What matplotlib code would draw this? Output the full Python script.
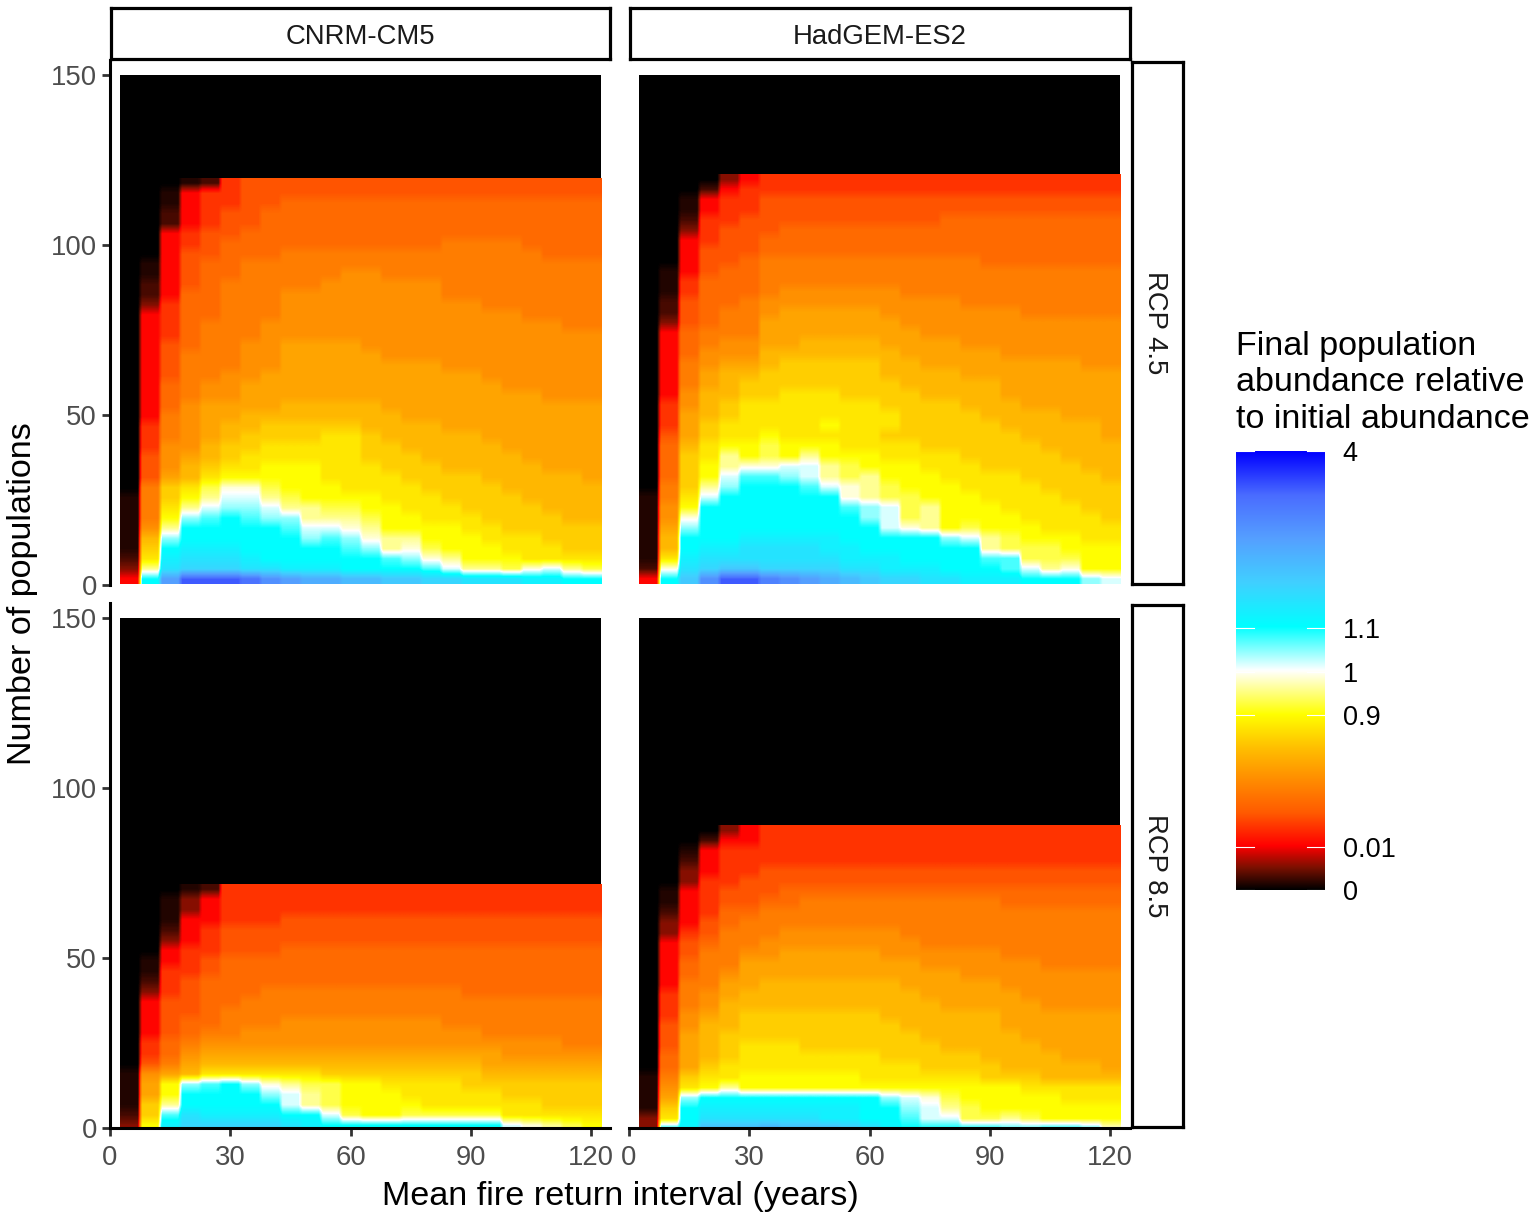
"""Final population abundance heatmaps: fire return interval vs number of populations."""
import numpy as np
import matplotlib
matplotlib.use("Agg")
import matplotlib.pyplot as plt
from matplotlib.colors import LinearSegmentedColormap

W, H = 1535, 1219
plt.rcParams["font.family"] = ["Liberation Sans", "DejaVu Sans"]

models = ["CNRM-CM5", "HadGEM-ES2"]
scenarios = ["RCP 4.5", "RCP 8.5"]
x_ticks = [0, 30, 60, 90, 120]
y_ticks = [0, 50, 100, 150]
fire_interval = [5, 10, 15, 20, 25, 30, 35, 40, 45, 50, 55, 60, 65, 70, 75, 80, 85, 90, 95, 100, 105, 110, 115, 120]
legend_labels = ["0", "0.01", "0.9", "1", "1.1", "4"]
legend_pos = [0.0, 0.098, 0.399, 0.497, 0.597, 1.0]

# Cells, top row first, one column per fire interval.
# Each character is a position on the colour legend: 0 = bottom, z = top.
top_of_cells = {"cnrm45": 119.5, "had45": 120.7, "cnrm85": 71.6, "had85": 88.8}
# нижний ряд обрезан осью, поэтому сетка клеток начинается ниже нуля
bottom_of_cells = {"cnrm45": 0.3, "had45": 0.3, "cnrm85": -0.7, "had85": -1.7}

cnrm45 = [
    "000125 666666 666666 666666",
    "001455 666666 666666 666666",
    "001455 667777 777777 777777",
    "002456 677777 777777 777777",
    "002456 677777 777777 777777",
    "004566 777777 777777 777777",
    "004567 777777 777788 887777",
    "004667 778888 888888 888777",
    "014677 888888 888888 888888",
    "014677 888889 988888 888888",
    "024678 888899 999988 888888",
    "024778 889999 999988 888888",
    "035778 889999 999999 888888",
    "045778 889999 999999 998888",
    "045788 899999 999999 999988",
    "045788 899999 999999 999999",
    "046788 99aaaa 999999 999999",
    "046888 99aaaa a99999 999999",
    "046888 99aaaa aaaa99 999999",
    "046889 9aaaaa aaaaaa 999999",
    "047899 aaaaaa aaaaaa a99999",
    "047899 aaaaaa aaaaaa aaa999",
    "0479aa aabbbb baaaaa aaaaaa",
    "0489aa bbbbbb bbaaaa aaaaaa",
    "0589ab bccccc bbbbaa aaaaaa",
    "0589ab ccccdd cbbbbb aaaaaa",
    "0599bc cddddd ccbbbb baaaaa",
    "069abc dddddd cccbbb bbaaaa",
    "069bcd deeedd dcccbb bbbaaa",
    "06abde eeeedd ddcccc bbbbba",
    "08cdfh hfeeed dddccc cbbbbb",
    "18cegi igfeee edddcc ccbbbb",
    "18dgij jiggff eedddc cccbbb",
    "18ejkl kjjggg feeddd ccccbb",
    "19glll llkiih geeeed dccccc",
    "1bjlll llljkj hggeee dddccc",
    "1clmmm lllllk jghfee edddcc",
    "2dmnnn mlllll lkjhge eedddd",
    "3gnooo nnmmml lllkig gfhigf",
    "4lswww vtsrrq qppoon nnmmll",
]

had45 = [
    "000034 555555 555555 555555",
    "000245 555555 555555 555555",
    "001455 666666 666666 666666",
    "001455 666666 666666 666666",
    "002556 666666 666777 777777",
    "003566 677777 777777 777777",
    "004566 777777 777777 777777",
    "004666 777777 777777 777777",
    "004667 888888 888887 777777",
    "014677 888888 888888 888888",
    "015777 888888 888888 888888",
    "015777 899999 988888 888888",
    "026778 999999 999988 888888",
    "026788 9aaaaa 999999 988888",
    "036788 aaaaaa a99999 999999",
    "047888 aaaaaa aa9999 999999",
    "047899 aabbbb aaaa99 999999",
    "047999 bbbbbb baaaaa 999999",
    "0489aa bccccc bbaaaa aaaa99",
    "048abb cccccc bbbbaa aaaaaa",
    "048abc cccccc cbbbbb aaaaaa",
    "049bbc cdddcc ccbbbb aaaaaa",
    "059bcd dddddd ccccbb baaaaa",
    "05abcd dddddd dccccb bbbaaa",
    "05acdd dddedd dccccc bbbbba",
    "06acdd eddddd cccccc cbbbba",
    "07bdee feeedd ddcccc ccbbbb",
    "07cdge fegeee ddddcc cccbbb",
    "07cegh hiigfe eedddc ccccbb",
    "07ceik kjigfg eeeddd dccccb",
    "08cgjl llkihg feeedd ddcccc",
    "18dill llllhg ffeeed dddccc",
    "19elll llllkj ifgeee ddddcc",
    "19hlll lllllj ifgeee eddddc",
    "1ajlll llllll ihgefe eedddd",
    "1blllm mmmmll llljig feeedd",
    "1blmmn nnnmml lllllg fffeee",
    "1dmnnn nnnnmm mllllk kfffee",
    "2hnopp oooonn mmmlll kighee",
    "4lptww utsrqp oonnmm mlllji",
]

cnrm85 = [
    "000125 555555 555555 555555",
    "001345 555555 555555 555555",
    "001345 555555 555555 555555",
    "001445 556666 666666 666666",
    "002456 666666 666666 666666",
    "003456 666666 666666 666666",
    "004556 667777 777777 777777",
    "014567 777777 777777 777777",
    "015567 777777 777777 777777",
    "025677 777777 777777 777777",
    "035677 788888 888887 777777",
    "046677 888888 888888 888888",
    "046678 888888 888888 888888",
    "046778 889999 999988 888888",
    "046788 999999 999999 888888",
    "057899 999999 999999 999988",
    "0579aa aaaaaa aaaaaa a99999",
    "068abb bbbbbb bbbbbb aaaaaa",
    "19abdd ddddcc cccccc bbbbbb",
    "1aejkl jhgffe eddddc cccccc",
    "1aelll ljigfe eedddd dccccc",
    "1cglll lligfe eeeddd dddccc",
    "2cknmm mmllif eeffff fddddd",
    "3emooo oonmll llllll lihgfe",
]

had85 = [
    "000034 555555 555555 555555",
    "000244 555555 555555 555555",
    "001455 555555 555555 555555",
    "002455 555555 555555 555555",
    "003455 666666 666666 666666",
    "003556 666666 666666 666666",
    "014566 677777 777777 777777",
    "014566 778888 888888 777777",
    "024577 888888 888888 888888",
    "034678 888888 888888 888888",
    "035688 899999 988888 888888",
    "046788 999999 998888 888888",
    "046889 9aaaaa 999999 888888",
    "04788a aaaaaa aa9999 998888",
    "04789a aaaaaa aaaa99 999999",
    "0488aa bbbbbb baaaaa 999999",
    "0589ab bbbbbb bbaaaa a99999",
    "0589bb bbbbbb bbbaaa aa9999",
    "059abc cccccc bbbbbb aaaaaa",
    "069bbc cccccc cbbbbb aaaaaa",
    "06abcc cccccc ccbbbb baaaaa",
    "06abcd ddcccc cccbbb bbaaaa",
    "07abcd dddddd cccccb bbbaaa",
    "07acdd dddddd ddcccc bbbbba",
    "18cdde eeeeed dddddc ccbbbb",
    "19dege eeeeee eeeeee eddddd",
    "1ajlll llllll jihfee eeeddd",
    "1clmmm mmmmml ljigfe eeeeee",
    "3dlnnn nnnmml lkiiff gfeeee",
    "3lmqqq rqqqpo mlllll kkllkh",
]

panels = {(0, 0): ("cnrm45", cnrm45), (0, 1): ("had45", had45),
          (1, 0): ("cnrm85", cnrm85), (1, 1): ("had85", had85)}

LEVELS = "0123456789abcdefghijklmnopqrstuvwxyz"
# тёмные уровни идут плотнее: коричневые клетки почти чёрные
DARK_LEVELS = {"1": 0.015, "2": 0.03, "3": 0.055, "4": 0.105}

# ggplot blends in Lab, hence the extra stops between the named colours
fire_cmap = LinearSegmentedColormap.from_list("fire", [
    (0.0, "#000000"), (0.05, "#7a1000"), (0.1, "#ff0000"), (0.175, "#ff5a00"),
    (0.25, "#ff8c00"), (0.325, "#ffc000"), (0.4, "#ffff00"), (0.5, "#ffffff"),
    (0.6, "#00ffff"), (0.7, "#40d0ff"), (0.8, "#55a0ff"), (0.9, "#4a6cff"), (1.0, "#0000ff"),
], N=512)


def decode(rows):
    """Строки уровней -> матрица позиций на шкале (строка 0 = низ)."""
    grid = [[DARK_LEVELS.get(c, LEVELS.index(c) / 35) for c in r.replace(" ", "")] for r in rows]
    return np.array(grid[::-1])


def px_axes(fig, left, top, right, bottom):
    return fig.add_axes([left / W, 1 - bottom / H, (right - left) / W, (bottom - top) / H])


def strip(fig, left, top, right, bottom, label, rotation=0):
    ax = px_axes(fig, left, top, right, bottom)
    ax.set_xticks([])
    ax.set_yticks([])
    for s in ax.spines.values():
        s.set_linewidth(2.3)
        s.set_color("black")
    dx, dy = (-3 / (right - left), 0) if rotation else (0, -3 / (bottom - top))
    ax.text(0.5 + dx, 0.5 + dy, label, transform=ax.transAxes, ha="center", va="center",
            rotation=rotation, fontsize=19.8, color="#1a1a1a")


fig = plt.figure(figsize=(W / 100, H / 100), dpi=100)

col_px = [(110, 610), (629, 1130)]
row_px = [(60, 585), (603, 1128)]
x0, x1 = fire_interval[0] - 2.5, fire_interval[-1] + 2.5

for (r, c), (key, rows) in panels.items():
    left, right = col_px[c]
    top, bottom = row_px[r]
    ax = px_axes(fig, left, top, right, bottom)
    values = decode(rows)
    # чёрное выше последней строки
    ax.pcolormesh([x0, x1], [0.3, 150], [[0.0]], cmap=fire_cmap, vmin=0, vmax=1, linewidth=0)
    # клетки размыты, как в исходном jpeg: по x края остаются почти резкими
    smooth = np.repeat(values, 5, axis=1)
    ax.imshow(smooth, origin="lower", aspect="auto", cmap=fire_cmap, vmin=0, vmax=1,
              extent=[x0, x1, bottom_of_cells[key], top_of_cells[key]],
              interpolation="bilinear", interpolation_stage="data", zorder=2)
    ax.set_xlim(0, (right - left) / 4.01)
    ax.set_ylim(0, (bottom - top) / 3.403)
    ax.spines["top"].set_visible(False)
    ax.spines["right"].set_visible(False)
    ax.spines["left"].set_visible(c == 0)
    ax.spines["bottom"].set_visible(r == 1)
    ax.spines["left"].set_linewidth(2.2)
    ax.spines["bottom"].set_linewidth(2.2)
    ax.set_xticks(x_ticks if r == 1 else [])
    ax.set_yticks(y_ticks if c == 0 else [])
    ax.tick_params(length=6, width=2, color="#333333", labelcolor="#4d4d4d",
                   labelsize=19.8, pad=3.5)
    ax.tick_params(axis="x", pad=6)

for name, (left, right) in zip(models, col_px):
    strip(fig, left + 1, 8, right, 59, name)
for name, (top, bottom) in zip(scenarios, row_px):
    strip(fig, 1132, top + 2, 1183, bottom - 1, name, rotation=-90)

fig.text(620 / W, 1 - 1196 / H, "Mean fire return interval (years)", ha="center", va="center",
         fontsize=24.55, color="black")
fig.text(23 / W, 1 - 594 / H, "Number of populations", ha="center", va="center",
         rotation=90, fontsize=24.55, color="black")

# Легенда-градиент
fig.text(1236 / W, 1 - 331 / H, "Final population\nabundance relative\nto initial abundance",
         ha="left", va="top", fontsize=24.55, linespacing=1.22, color="black")
cax = px_axes(fig, 1236, 451, 1325, 890)
gradient = np.linspace(0, 1, 512).reshape(-1, 1)
cax.imshow(gradient, origin="lower", aspect="auto", cmap=fire_cmap, vmin=0, vmax=1,
           extent=[0, 1, 0, 1])
cax.set_xlim(0, 1)
cax.set_ylim(0, 1)
cax.set_xticks([])
cax.set_yticks([])
for s in cax.spines.values():
    s.set_visible(False)
for pos, label in zip(legend_pos, legend_labels):
    cax.plot([0, 0.2], [pos, pos], color="white", lw=0.8, clip_on=False)
    cax.plot([0.8, 1], [pos, pos], color="white", lw=0.8, clip_on=False)
    cax.text(1.2, pos - 3 / 439, label, ha="left", va="center", fontsize=19.5, color="black")

fig.savefig("out.png", dpi=100)
